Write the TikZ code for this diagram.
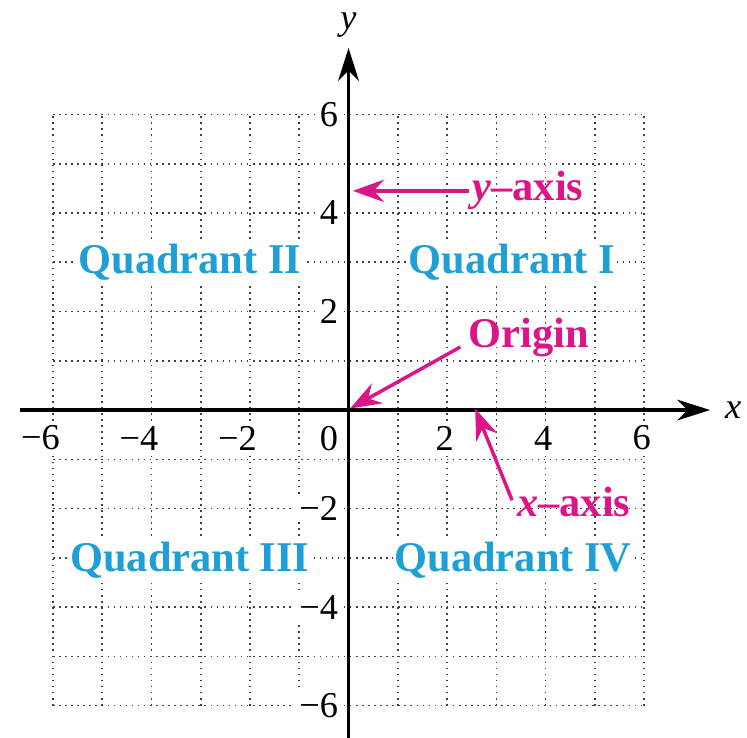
\documentclass[tikz,border=0pt]{standalone}
\usepackage{fontspec}
\setmainfont{Liberation Serif}
\usetikzlibrary{arrows.meta}
\definecolor{quadblue}{RGB}{30,160,215}
\definecolor{notepink}{RGB}{220,20,135}
\tikzset{
  gridline/.style={line width=0.9pt, black!75, dash pattern=on 0.9pt off 2.6pt},
  axisline/.style={line width=1.9pt, -{Stealth[length=19pt,width=12pt,inset=6pt]}},
  numlabel/.style={fill=white, inner xsep=3pt, inner ysep=1pt, font=\fontsize{21}{24}\selectfont},
  quad/.style={fill=white, inner sep=1pt, text=quadblue, font=\fontsize{24.5}{28}\selectfont\bfseries},
  note/.style={inner sep=0pt, text=notepink, font=\fontsize{24.5}{28}\selectfont\bfseries},
  pointer/.style={notepink, line width=2pt, -{Stealth[length=18pt,width=13pt,inset=6pt]}}
}
\begin{document}
\begin{tikzpicture}[line join=round]
	\useasboundingbox (-7.076,-6.64) rectangle (8.09,8.325);
	\draw[gridline] (-6,-6) grid (6,6);
	% numbers on both axes
	\foreach \k/\t in {-6/{−6},-4/{−4},-2/{−2},2/2,4/4,6/6} {
		\node[numlabel, anchor=east] (xlab\k) at (\k+0.25,-0.57) {\t};
		\node[numlabel, anchor=east] (ylab\k) at (-0.1,\k) {\t};
	}
	\node[numlabel, anchor=east] (zero) at (-0.1,-0.57) {0};
	% quadrants
	\node[quad, anchor=base] (q1) at (3.32,2.78) {Quadrant I};
	\node[quad, anchor=base] (q2) at (-3.22,2.78) {Quadrant II};
	\node[quad, anchor=base] (q3) at (-3.22,-3.27) {Quadrant III};
	\node[quad, anchor=base] (q4) at (3.34,-3.27) {Quadrant IV};
	% axes
	\coordinate (xstart) at (-6.67,0);
	\coordinate (xend) at (7.34,0);
	\coordinate (ystart) at (0,-6.7);
	\coordinate (yend) at (0,7.35);
	\draw[axisline] (xstart) -- (xend);
	\draw[axisline] (ystart) -- (yend);
	\node[font=\fontsize{21}{24}\selectfont] (xname) at (7.81,0) {\textit{x}};
	\node[font=\fontsize{21}{24}\selectfont] (yname) at (0,7.82) {\textit{y}};
	% pointers
	\node[note, anchor=base west] (yaxis) at (2.51,4.26) {\textit{y}–axis};
	\node[note, anchor=base west] (origin) at (2.43,1.26) {Origin};
	\node[note, anchor=base west] (xaxis) at (3.42,-2.17) {\textit{x}–axis};
	\coordinate (yaxistip) at (0.09,4.45);
	\coordinate (origintip) at (0.03,0.03);
	\coordinate (xaxistip) at (2.57,0.03);
	\draw[pointer] ([xshift=-2pt]yaxis.west |- yaxistip) -- (yaxistip);
	\draw[pointer] ([shift={(-0.16,0.02)}]origin.base west) -- (origintip);
	\draw[pointer] ([shift={(-0.1,0.34)}]xaxis.base west) -- (xaxistip);
\end{tikzpicture}
\end{document}
